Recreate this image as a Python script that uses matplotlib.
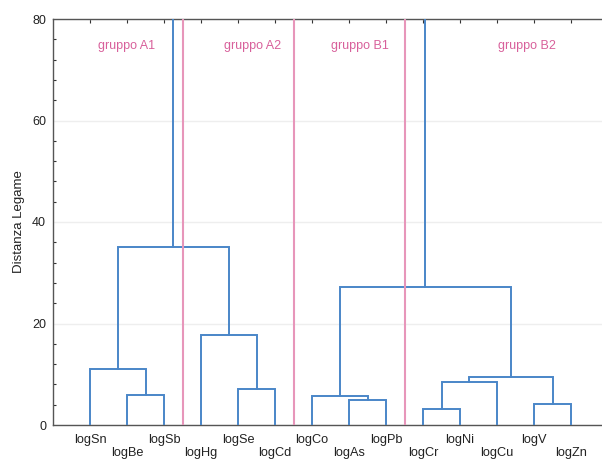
import matplotlib
matplotlib.use("Agg")
import matplotlib.pyplot as plt
from matplotlib.ticker import MultipleLocator

plt.rcParams['font.family'] = ['Liberation Sans', 'DejaVu Sans']

# Leaves in dendrogram order
leaves = ['logSn', 'logBe', 'logSb', 'logHg', 'logSe', 'logCd', 'logCo',
          'logAs', 'logPb', 'logCr', 'logNi', 'logCu', 'logV', 'logZn']

# Agglomeration steps (scipy-style: node ids >= len(leaves) are earlier merges)
merge_left = [1, 0, 4, 3, 15, 7, 6, 9, 21, 12, 22, 20, 18]
merge_right = [2, 14, 5, 16, 17, 8, 19, 10, 11, 13, 23, 24, 25]
merge_height = [6.0, 11.0, 7.1, 17.7, 35.1, 5.0, 5.7, 3.2, 8.4, 4.1, 9.5, 27.2, 95.0]

# Group separators (between leaves) and group labels
group_names = ['gruppo A1', 'gruppo A2', 'gruppo B1', 'gruppo B2']
group_label_x = [2.0, 5.4, 8.3, 12.8]
separator_x = [3.5, 6.5, 9.5]

blue = '#4a86c8'
pink = '#e796ba'
pink_text = '#d8609b'

fig = plt.figure(figsize=(6.02, 4.59), dpi=100)
ax = fig.add_axes([53 / 602, 1 - 425 / 459, 1 - 53 / 602, 406 / 459])

# node positions: leaves at 1..n on the x-axis, height 0
n = len(leaves)
pos_x = {i: i + 1 for i in range(n)}
pos_y = {i: 0.0 for i in range(n)}
for k, (a, b, h) in enumerate(zip(merge_left, merge_right, merge_height)):
    xa, ya = pos_x[a], pos_y[a]
    xb, yb = pos_x[b], pos_y[b]
    ax.plot([xa, xa, xb, xb], [ya, h, h, yb], color=blue, lw=1.4,
            solid_joinstyle='miter', zorder=3)
    pos_x[n + k] = (xa + xb) / 2
    pos_y[n + k] = h

for sx in separator_x:
    ax.axvline(sx, color=pink, lw=1.5, zorder=4)

for name, gx in zip(group_names, group_label_x):
    ax.text(gx, 74.6, name, color=pink_text, fontsize=9, ha='center',
            va='center', zorder=5)

ax.set_xlim(0, 549 / 37)
ax.set_ylim(0, 80)

ax.yaxis.set_major_locator(MultipleLocator(20))
ax.yaxis.set_minor_locator(MultipleLocator(4))
ax.grid(axis='y', which='major', color='#eeeeee', lw=1.0, zorder=0)
ax.set_axisbelow(True)

ax.set_xticks(range(1, n + 1))
ax.set_xticklabels([])
ax.tick_params(axis='x', which='both', bottom=False, top=True, direction='in',
               length=3, width=0.8, color='#333333')
ax.tick_params(axis='y', which='major', left=True, direction='in', length=0,
               labelsize=9, pad=5, labelcolor='#222222')
ax.tick_params(axis='y', which='minor', left=True, direction='in', length=2.5,
               width=0.8, color='#333333')

# leaf labels on two staggered rows (offsets given in points)
for i, lab in enumerate(leaves):
    off = -10.8 if i % 2 == 0 else -20.2
    ax.annotate(lab, xy=(i + 1, 0), xycoords='data', xytext=(0, off),
                textcoords='offset points', ha='center', va='center',
                fontsize=9.2, color='#222222', annotation_clip=False)

for side in ['left', 'top', 'bottom']:
    ax.spines[side].set_color('#555555')
    ax.spines[side].set_linewidth(1.0)
ax.spines['right'].set_visible(False)

ax.set_ylabel('Distanza Legame', fontsize=9.5, color='#222222', labelpad=5)

fig.savefig('out.png', dpi=100)
